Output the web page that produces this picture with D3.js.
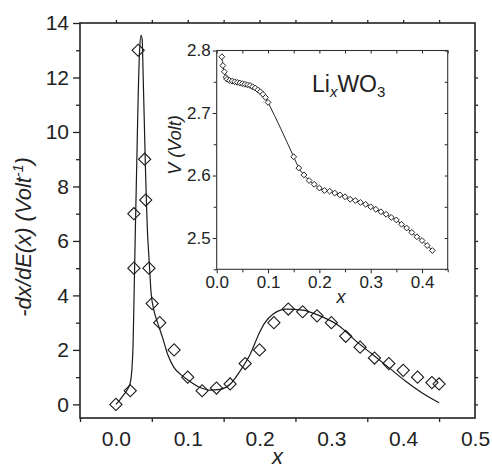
<!DOCTYPE html>
<html>
<head>
<meta charset="utf-8">
<script src="https://cdn.jsdelivr.net/npm/d3@7"></script>
<style>
  html, body { margin: 0; padding: 0; background: #fff; }
  svg { display: block; font-family: "Liberation Sans", Arial, Helvetica, sans-serif; }
  .axis path, .axis line { stroke: #222; }
  .axis text { fill: #222; }
</style>
</head>
<body>
<svg id="chart" width="492" height="470"></svg>
<script>
// ---- Main panel: -dx/dE(x) data (diamonds) ----
const capX = [0.0, 0.02, 0.025, 0.025, 0.031, 0.04, 0.0415, 0.046, 0.0505, 0.061, 0.081, 0.1, 0.12, 0.14, 0.159,
              0.18, 0.2, 0.22, 0.24, 0.26, 0.28, 0.30, 0.32, 0.34, 0.36, 0.38, 0.40, 0.42, 0.44, 0.45];
const capY = [0.0, 0.5, 5.0, 7.0, 13.0, 9.0, 7.5, 5.0, 3.7, 3.0, 2.0, 1.0, 0.5, 0.6, 0.75,
              1.5, 2.0, 3.0, 3.5, 3.4, 3.25, 3.0, 2.5, 2.1, 1.7, 1.5, 1.25, 1.0, 0.8, 0.75];

// ---- Main panel: fitted curve ----
const fitX = [0.0, 0.005, 0.010, 0.016, 0.020, 0.022, 0.024, 0.0255, 0.027, 0.029, 0.031, 0.033, 0.035, 0.0365,
              0.038, 0.0395, 0.041, 0.0425, 0.044, 0.046, 0.049, 0.053, 0.058, 0.065, 0.072, 0.081, 0.090, 0.099,
              0.118, 0.131, 0.145, 0.159, 0.173, 0.187, 0.200, 0.2075, 0.219, 0.2375, 0.26, 0.284, 0.311, 0.334,
              0.357, 0.380, 0.403, 0.426, 0.450];
const fitY = [0.0, 0.15, 0.32, 0.55, 0.8, 1.2, 2.3, 4.3, 6.3, 8.8, 11.3, 13.0, 13.55, 13.4,
              12.0, 10.4, 8.8, 7.4, 6.3, 5.4, 4.1, 3.44, 3.0, 2.45, 1.84, 1.35, 1.1, 0.92,
              0.61, 0.52, 0.55, 0.74, 1.23, 1.84, 2.64, 3.0, 3.32, 3.5, 3.46, 3.25, 2.88, 2.33,
              1.84, 1.35, 0.86, 0.43, 0.06];

// ---- Inset: V(x) for LixWO3 ----
const vX = [0.010, 0.012, 0.015, 0.018,
            0.020, 0.025, 0.030, 0.035, 0.040, 0.045, 0.050, 0.055, 0.060, 0.065, 0.070, 0.075, 0.080, 0.085,
            0.090, 0.095, 0.100,
            0.15, 0.16, 0.17, 0.18, 0.19, 0.20, 0.21, 0.22, 0.23, 0.24, 0.25, 0.26, 0.27, 0.28, 0.29, 0.30,
            0.31, 0.32, 0.33, 0.34, 0.35, 0.36, 0.37, 0.38, 0.39, 0.40, 0.41, 0.42];
const vY = [2.790, 2.776, 2.766, 2.757,
            2.754, 2.752, 2.751, 2.750, 2.749, 2.748, 2.747, 2.746, 2.745, 2.744, 2.742, 2.740, 2.737, 2.734,
            2.730, 2.725, 2.717,
            2.630, 2.612, 2.601, 2.592, 2.586, 2.580, 2.576, 2.575, 2.572, 2.569, 2.566, 2.562, 2.560, 2.557,
            2.554, 2.550, 2.546, 2.542, 2.538, 2.533, 2.529, 2.522, 2.516, 2.509, 2.502, 2.496, 2.488, 2.480];

// ---- Tick values ----
const mainXLabels = [0.0, 0.1, 0.2, 0.3, 0.4, 0.5];
const mainXMinor = [-0.05, 0.05, 0.15, 0.25, 0.35, 0.45];
const mainYMajor = [0, 2, 4, 6, 8, 10, 12, 14];
const mainYMinor = [1, 3, 5, 7, 9, 11, 13];
const insetXMajor = [0.0, 0.1, 0.2, 0.3, 0.4];
const insetXMinor = [0.05, 0.15, 0.25, 0.35, 0.45];
const insetYMajor = [2.5, 2.6, 2.7, 2.8];
const insetYMinor = [2.45, 2.55, 2.65, 2.75];

const svg = d3.select("#chart");

// ---------------- main panel ----------------
const M = { left: 80, right: 475, top: 23, bottom: 418 };
const x = d3.scaleLinear().domain([-0.05, 0.5]).range([M.left, M.right]);
const y = d3.scaleLinear().domain([-0.5, 14]).range([M.bottom, M.top]);

function styleAxis(g, fontSize) {
  g.attr("class", "axis").attr("font-size", fontSize).attr("font-family", null);
  g.select(".domain").remove();
  g.selectAll("line").attr("stroke-width", 1.3);
}

// left axis
svg.append("g").attr("transform", `translate(${M.left},0)`)
  .call(d3.axisLeft(y).tickValues(mainYMajor).tickFormat(d3.format("d")).tickSize(7).tickPadding(4))
  .call(g => styleAxis(g, 21));
svg.append("g").attr("transform", `translate(${M.left},0)`)
  .call(d3.axisLeft(y).tickValues(mainYMinor).tickFormat("").tickSize(4))
  .call(g => styleAxis(g, 21));
// bottom axis: labels at tenths, tick marks at the half steps
svg.append("g").attr("transform", `translate(0,${M.bottom})`)
  .call(d3.axisBottom(x).tickValues(mainXLabels).tickFormat(d3.format(".1f")).tickSize(0).tickPadding(13))
  .call(g => styleAxis(g, 21));
svg.append("g").attr("transform", `translate(0,${M.bottom})`)
  .call(d3.axisBottom(x).tickValues(mainXMinor).tickFormat("").tickSize(4))
  .call(g => styleAxis(g, 21));
// top and right mirror ticks
svg.append("g").attr("transform", `translate(0,${M.top})`)
  .call(d3.axisTop(x).tickValues(d3.range(0, 0.5, 0.05)).tickFormat("").tickSize(3))
  .call(g => styleAxis(g, 21));
svg.append("g").attr("transform", `translate(${M.right},0)`)
  .call(d3.axisRight(y).tickValues(d3.range(0, 14, 1)).tickFormat("").tickSize(3))
  .call(g => styleAxis(g, 21));

// fitted curve
const fitLine = d3.line().x(d => x(d[0])).y(d => y(d[1])).curve(d3.curveMonotoneX);
svg.append("path")
  .datum(d3.zip(fitX, fitY))
  .attr("d", fitLine)
  .attr("fill", "none").attr("stroke", "#1a1a1a").attr("stroke-width", 1.2);

// diamonds
const bigDiamond = d3.symbol().type(d3.symbolSquare).size(74);
svg.append("g").selectAll("path")
  .data(d3.zip(capX, capY))
  .join("path")
  .attr("d", bigDiamond)
  .attr("transform", d => `translate(${x(d[0])},${y(d[1])}) rotate(45)`)
  .attr("fill", "none").attr("stroke", "#1a1a1a").attr("stroke-width", 1.1);

// frame
svg.append("rect")
  .attr("x", M.left).attr("y", M.top)
  .attr("width", M.right - M.left).attr("height", M.bottom - M.top)
  .attr("fill", "none").attr("stroke", "#222").attr("stroke-width", 1.6);

// axis titles
svg.append("text")
  .attr("x", x(0.225)).attr("y", 464)
  .attr("text-anchor", "middle").attr("font-size", 22).attr("font-style", "italic").attr("fill", "#222")
  .text("x");

const yTitle = svg.append("text")
  .attr("transform", "translate(31,237) rotate(-90)")
  .attr("text-anchor", "middle").attr("font-size", 22).attr("font-style", "italic").attr("fill", "#222");
yTitle.append("tspan").text("-dx/dE(x)  (Volt");
yTitle.append("tspan").attr("font-size", 14).attr("dy", -8).text("-1");
yTitle.append("tspan").attr("dy", 8).text(")");

// ---------------- inset ----------------
const I = { left: 216.7, right: 447.7, top: 50.5, bottom: 269.3 };
const ix = d3.scaleLinear().domain([0, 0.45]).range([I.left, I.right]);
const iy = d3.scaleLinear().domain([2.45, 2.8]).range([I.bottom, I.top]);

svg.append("rect")
  .attr("x", I.left).attr("y", I.top)
  .attr("width", I.right - I.left).attr("height", I.bottom - I.top)
  .attr("fill", "#fff");

function styleInset(g) {
  g.attr("class", "axis").attr("font-size", 17).attr("font-family", null);
  g.select(".domain").remove();
  g.selectAll("line").attr("stroke-width", 1);
}
svg.append("g").attr("transform", `translate(${I.left},0)`)
  .call(d3.axisLeft(iy).tickValues(insetYMajor).tickFormat(d3.format(".1f")).tickSize(4).tickPadding(2))
  .call(styleInset);
svg.append("g").attr("transform", `translate(${I.left},0)`)
  .call(d3.axisLeft(iy).tickValues(insetYMinor).tickFormat("").tickSize(3))
  .call(styleInset);
svg.append("g").attr("transform", `translate(0,${I.bottom})`)
  .call(d3.axisBottom(ix).tickValues(insetXMajor).tickFormat(d3.format(".1f")).tickSize(4).tickPadding(3))
  .call(styleInset);
svg.append("g").attr("transform", `translate(0,${I.bottom})`)
  .call(d3.axisBottom(ix).tickValues(insetXMinor).tickFormat("").tickSize(3))
  .call(styleInset);
svg.append("g").attr("transform", `translate(0,${I.top})`)
  .call(d3.axisBottom(ix).tickValues(insetXMajor.concat(insetXMinor)).tickFormat("").tickSize(3))
  .call(styleInset);
svg.append("g").attr("transform", `translate(${I.right},0)`)
  .call(d3.axisLeft(iy).tickValues(insetYMajor.concat(insetYMinor)).tickFormat("").tickSize(3))
  .call(styleInset);

// V(x) line and markers
const vLine = d3.line().x(d => ix(d[0])).y(d => iy(d[1])).curve(d3.curveMonotoneX);
svg.append("path")
  .datum(d3.zip(vX, vY))
  .attr("d", vLine)
  .attr("fill", "none").attr("stroke", "#222").attr("stroke-width", 1);

const smallDiamond = d3.symbol().type(d3.symbolSquare).size(17);
svg.append("g").selectAll("path")
  .data(d3.zip(vX, vY))
  .join("path")
  .attr("d", smallDiamond)
  .attr("transform", d => `translate(${ix(d[0])},${iy(d[1])}) rotate(45)`)
  .attr("fill", "#fff").attr("stroke", "#1a1a1a").attr("stroke-width", 0.9);

svg.append("rect")
  .attr("x", I.left).attr("y", I.top)
  .attr("width", I.right - I.left).attr("height", I.bottom - I.top)
  .attr("fill", "none").attr("stroke", "#333").attr("stroke-width", 1.1);

// inset titles
svg.append("text")
  .attr("x", 341).attr("y", 303)
  .attr("text-anchor", "middle").attr("font-size", 18).attr("font-style", "italic").attr("fill", "#222")
  .text("x");
svg.append("text")
  .attr("transform", "translate(181,145) rotate(-90)")
  .attr("text-anchor", "middle").attr("font-size", 18).attr("font-style", "italic").attr("fill", "#222")
  .text("V (Volt)");

// compound label
const comp = svg.append("text")
  .attr("x", 312).attr("y", 91.5)
  .attr("font-size", 23).attr("fill", "#222");
comp.append("tspan").text("Li");
comp.append("tspan").attr("font-size", 15).attr("font-style", "italic").attr("dy", 5).text("x");
comp.append("tspan").attr("dy", -5).text("WO");
comp.append("tspan").attr("font-size", 15).attr("dy", 5).text("3");
</script>
</body>
</html>
